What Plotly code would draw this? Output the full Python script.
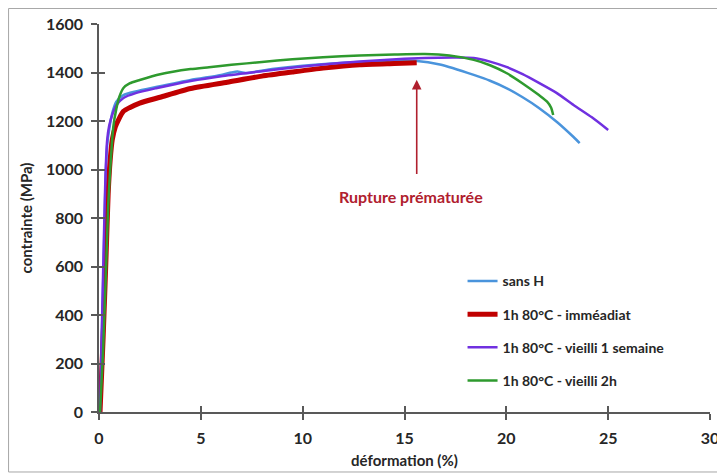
import plotly.graph_objects as go

# ---- data ----
sansH_x = [0.05, 0.15, 0.25, 0.32, 0.40, 0.50, 0.65, 0.85, 1.2, 1.8, 2.8, 4.5, 6.0, 6.5, 6.8, 7.2, 8.5, 10, 12, 14, 15.5, 16.8, 18.4, 19.2, 20.0, 20.8, 21.6, 22.5, 23.3, 23.6]
sansH_y = [0, 350, 700, 950, 1100, 1165, 1233, 1280, 1307, 1322, 1340, 1369, 1390, 1400, 1404, 1398, 1414, 1428, 1440, 1447, 1448, 1432, 1390, 1366, 1336, 1298, 1254, 1195, 1134, 1109]

imm_x = [0.05, 0.20, 0.35, 0.45, 0.55, 0.65, 0.80, 0.95, 1.2, 1.5, 2.0, 3.0, 4.5, 6.3, 8.0, 9.5, 11, 12.8, 14.5, 15.6]
imm_y = [0, 300, 650, 900, 1040, 1122, 1175, 1204, 1240, 1255, 1274, 1298, 1334, 1360, 1385, 1402, 1418, 1432, 1437, 1440]

sem_x = [0.05, 0.15, 0.25, 0.32, 0.40, 0.50, 0.65, 0.85, 1.2, 1.8, 2.8, 4.5, 6.0, 8.0, 10, 12, 14, 16, 17.5, 18.4, 19.2, 20.0, 20.8, 21.6, 22.5, 23.3, 24.2, 25.0]
sem_y = [0, 380, 750, 980, 1120, 1180, 1225, 1265, 1295, 1315, 1335, 1365, 1385, 1405, 1425, 1440, 1452, 1460, 1462, 1460, 1445, 1423, 1393, 1357, 1314, 1266, 1215, 1163]

h2_x = [0.05, 0.20, 0.35, 0.45, 0.55, 0.70, 0.85, 1.0, 1.2, 1.5, 2.0, 3.0, 4.5, 5.4, 6.5, 8.0, 9.5, 11, 12.8, 14.5, 16, 17.2, 18.4, 19.2, 20.0, 20.8, 21.6, 22.0, 22.2, 22.3]
h2_y = [0, 250, 600, 850, 1000, 1175, 1250, 1300, 1336, 1355, 1369, 1393, 1414, 1422, 1432, 1443, 1455, 1463, 1470, 1474, 1476, 1470, 1452, 1430, 1398, 1355, 1307, 1280, 1255, 1225]

series_names = ["sans H", "1h 80°C - imméadiat", "1h 80°C - vieilli 1 semaine", "1h 80°C - vieilli 2h"]
series_colors = ["#4A94DC", "#C00000", "#7030E0", "#2E9A2E"]
series_widths = [2.5, 5, 2.5, 2.5]

x_ticks = [0, 5, 10, 15, 20, 25, 30]
y_ticks = [0, 200, 400, 600, 800, 1000, 1200, 1400, 1600]

rupture_x = imm_x[-1]
rupture_label = "Rupture prématurée"

FONT = "Lato"
TXT = "#262626"
AX = "#595959"

fig = go.Figure()
data = [(sansH_x, sansH_y), (imm_x, imm_y), (sem_x, sem_y), (h2_x, h2_y)]
for i, (xs, ys) in enumerate(data):
    fig.add_trace(go.Scatter(
        x=xs, y=ys, mode="lines", name=series_names[i],
        line=dict(color=series_colors[i], width=series_widths[i], shape="spline", smoothing=0.6),
        legendgroup=f"g{i}",
    ))

# invisible trace to carry the overlay axes (for crossing tick marks)
fig.add_trace(go.Scatter(x=sansH_x, y=sansH_y, xaxis="x2", yaxis="y2", mode="lines",
                         line=dict(color="rgba(0,0,0,0)"), showlegend=False, hoverinfo="skip"))

fig.add_annotation(
    x=rupture_x, y=1370, ax=rupture_x, ay=975, xref="x", yref="y", axref="x", ayref="y",
    text="", showarrow=True, arrowhead=2, arrowsize=1.2, arrowwidth=1.6, arrowcolor="#B0202E",
)
fig.add_annotation(
    x=15.3, y=887, xref="x", yref="y", text=rupture_label, showarrow=False,
    font=dict(family=FONT, size=16, color="#B0202E", weight="bold"),
)

# outer frame
fig.add_shape(type="rect", xref="paper", yref="paper", x0=-0.148, x1=1.0147, y0=-0.1546, y1=1.04,
              line=dict(color="#A6A6A6", width=1), layer="below")

fig.update_layout(
    width=717, height=467,
    margin=dict(l=91, r=15, t=16, b=63, autoexpand=False),
    paper_bgcolor="white", plot_bgcolor="white",
    font=dict(family=FONT, color=TXT),
    xaxis=dict(range=[0, 30], tickvals=x_ticks, showgrid=False, zeroline=False, automargin=False,
               showline=True, linecolor=AX, linewidth=1.5, ticks="outside", ticklen=6,
               tickcolor=AX, tickwidth=1.5, ticklabelstandoff=5,
               tickfont=dict(family=FONT, size=16, color=TXT, weight="bold"),
               title=dict(text="déformation (%)", font=dict(family=FONT, size=15, color=TXT, weight="bold"),
                          standoff=10)),
    yaxis=dict(range=[0, 1600], tickvals=y_ticks, showgrid=False, zeroline=False, automargin=False,
               showline=True, linecolor=AX, linewidth=1.5, ticks="outside", ticklen=6,
               tickcolor=AX, tickwidth=1.5, ticklabelstandoff=5,
               tickfont=dict(family=FONT, size=16, color=TXT, weight="bold"),
               title=dict(text="contrainte (MPa)", font=dict(family=FONT, size=15, color=TXT, weight="bold"),
                          standoff=10)),
    xaxis2=dict(range=[0, 30], tickvals=x_ticks, overlaying="x", anchor="y2", showgrid=False,
                zeroline=False, showline=False, ticks="inside", ticklen=6, tickcolor=AX, tickwidth=1.5,
                showticklabels=False, automargin=False),
    yaxis2=dict(range=[0, 1600], tickvals=y_ticks, overlaying="y", anchor="x2", showgrid=False,
                zeroline=False, showline=False, ticks="inside", ticklen=6, tickcolor=AX, tickwidth=1.5,
                showticklabels=False, automargin=False),
    showlegend=True,
    legend=dict(x=0.595, y=0.378, xanchor="left", yanchor="top", bgcolor="rgba(0,0,0,0)",
                font=dict(family=FONT, size=14, color=TXT, weight="bold"),
                tracegroupgap=12, itemwidth=30),
)

fig.write_html("out.html")
